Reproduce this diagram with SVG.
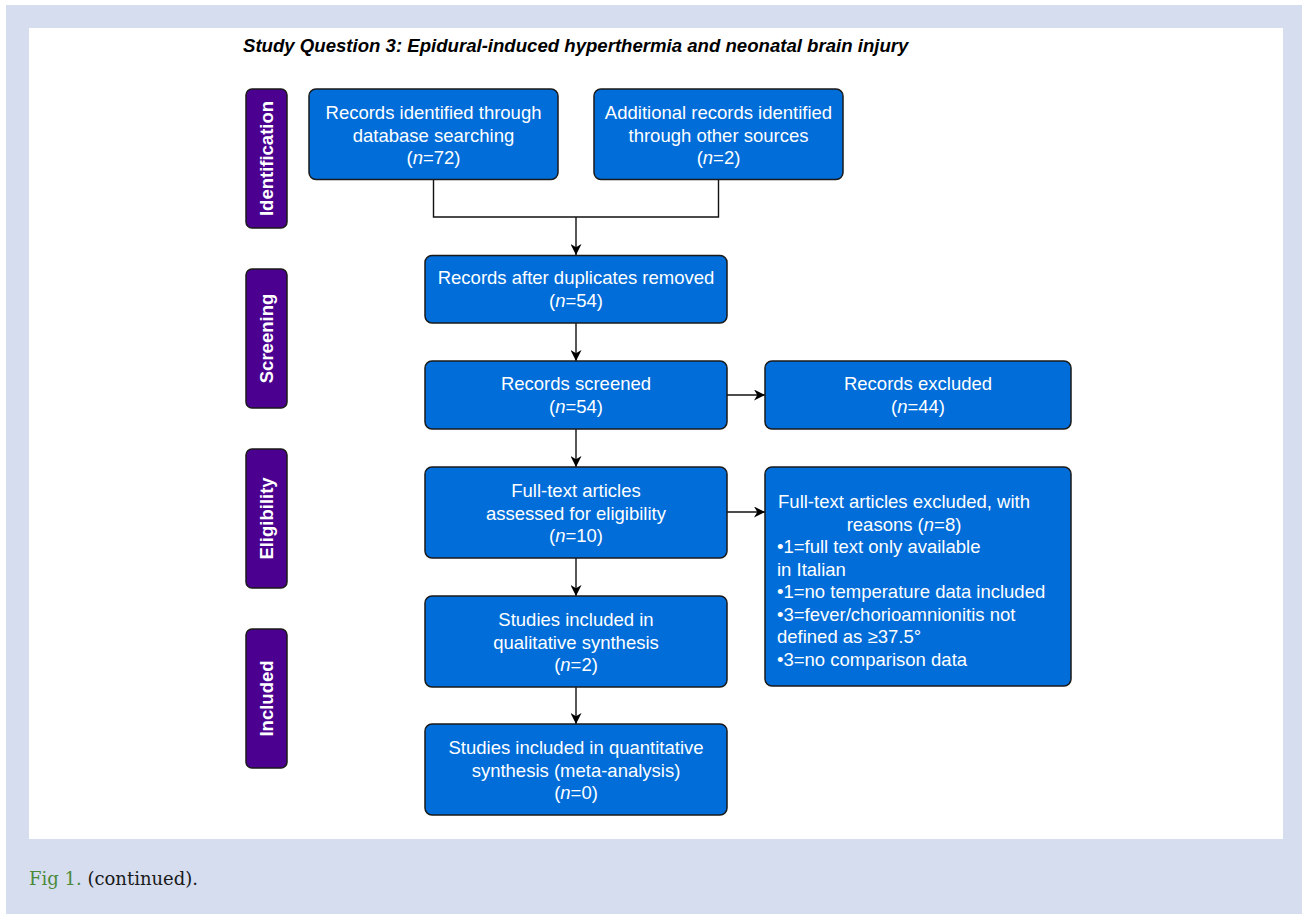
<svg xmlns="http://www.w3.org/2000/svg" width="1302" height="914" viewBox="0 0 1302 914">
<style>
.node{fill:#006dd9;stroke:#1a1a1a;stroke-width:1.5}
.phase{fill:#4b0090;stroke:#1a1a1a;stroke-width:1.5}
.t{font-family:"Liberation Sans",Arial,sans-serif;font-size:18.5px;fill:#ffffff;text-anchor:middle}
.tl{font-family:"Liberation Sans",Arial,sans-serif;font-size:18.5px;fill:#ffffff}
.pt{font-family:"Liberation Sans",Arial,sans-serif;font-size:18.5px;font-weight:bold;fill:#ffffff;text-anchor:middle}
.c{fill:none;stroke:#111;stroke-width:1.4}
</style>
<defs>
<marker id="arr" viewBox="0 0 10 10" refX="10" refY="5" markerWidth="11" markerHeight="11" markerUnits="userSpaceOnUse" orient="auto">
<path d="M0,0 L10,5 L0,10 L3,5 z" fill="#000"/>
</marker>
</defs>
<rect x="0" y="0" width="1302" height="914" fill="#ffffff"/>
<rect x="6" y="5" width="1296" height="909" fill="#d5ddef"/>
<rect x="29" y="28" width="1254" height="811" fill="#ffffff"/>
<text x="243" y="52" font-family="'Liberation Sans',Arial,sans-serif" font-size="18.6px" font-weight="bold" font-style="italic" fill="#000">Study Question 3: Epidural-induced hyperthermia and neonatal brain injury</text>

<g id="connectors">
<polyline class="c" points="433.5,179.5 433.5,217 718.5,217 718.5,179.5"/>
<line class="c" x1="576" y1="217" x2="576" y2="255" marker-end="url(#arr)"/>
<line class="c" x1="576" y1="323" x2="576" y2="361" marker-end="url(#arr)"/>
<line class="c" x1="727" y1="395" x2="765" y2="395" marker-end="url(#arr)"/>
<line class="c" x1="576" y1="429" x2="576" y2="467" marker-end="url(#arr)"/>
<line class="c" x1="727" y1="512" x2="765" y2="512" marker-end="url(#arr)"/>
<line class="c" x1="576" y1="558" x2="576" y2="596" marker-end="url(#arr)"/>
<line class="c" x1="576" y1="687" x2="576" y2="724" marker-end="url(#arr)"/>
</g>

<g id="phase-identification">
<rect class="phase" x="246" y="89" width="41" height="139" rx="6"/>
<text class="pt" transform="translate(273,158.5) rotate(-90)">Identification</text>
</g>
<g id="phase-screening">
<rect class="phase" x="246" y="269" width="41" height="139" rx="6"/>
<text class="pt" transform="translate(273,338.5) rotate(-90)">Screening</text>
</g>
<g id="phase-eligibility">
<rect class="phase" x="246" y="449" width="41" height="139" rx="6"/>
<text class="pt" transform="translate(273,518.5) rotate(-90)">Eligibility</text>
</g>
<g id="phase-included">
<rect class="phase" x="246" y="629" width="41" height="139" rx="6"/>
<text class="pt" transform="translate(273,698.5) rotate(-90)">Included</text>
</g>

<g id="records-database">
<rect class="node" x="309" y="89" width="249" height="90.5" rx="7"/>
<text class="t" x="433.5" y="119">Records identified through</text>
<text class="t" x="433.5" y="141.5">database searching</text>
<text class="t" x="433.5" y="164">(<tspan font-style="italic">n</tspan>=72)</text>
</g>
<g id="records-other">
<rect class="node" x="594" y="89" width="249" height="90.5" rx="7"/>
<text class="t" x="718.5" y="119">Additional records identified</text>
<text class="t" x="718.5" y="141.5">through other sources</text>
<text class="t" x="718.5" y="164">(<tspan font-style="italic">n</tspan>=2)</text>
</g>
<g id="records-dedup">
<rect class="node" x="425" y="255.5" width="302" height="67.5" rx="7"/>
<text class="t" x="576" y="284">Records after duplicates removed</text>
<text class="t" x="576" y="306.5">(<tspan font-style="italic">n</tspan>=54)</text>
</g>
<g id="records-screened">
<rect class="node" x="425" y="361" width="302" height="68" rx="7"/>
<text class="t" x="576" y="390">Records screened</text>
<text class="t" x="576" y="412.5">(<tspan font-style="italic">n</tspan>=54)</text>
</g>
<g id="records-excluded">
<rect class="node" x="765" y="361" width="306" height="68" rx="7"/>
<text class="t" x="918" y="390">Records excluded</text>
<text class="t" x="918" y="412.5">(<tspan font-style="italic">n</tspan>=44)</text>
</g>
<g id="fulltext-assessed">
<rect class="node" x="425" y="467" width="302" height="91" rx="7"/>
<text class="t" x="576" y="497">Full-text articles</text>
<text class="t" x="576" y="519.5">assessed for eligibility</text>
<text class="t" x="576" y="542">(<tspan font-style="italic">n</tspan>=10)</text>
</g>
<g id="fulltext-excluded">
<rect class="node" x="765" y="467" width="306" height="219" rx="7"/>
<text class="t" x="904" y="508">Full-text articles excluded, with</text>
<text class="t" x="904" y="530.5">reasons (<tspan font-style="italic">n</tspan>=8)</text>
<text class="tl" x="777" y="553">•1=full text only available</text>
<text class="tl" x="777" y="575.5">in Italian</text>
<text class="tl" x="777" y="598">•1=no temperature data included</text>
<text class="tl" x="777" y="620.5">•3=fever/chorioamnionitis not</text>
<text class="tl" x="777" y="643">defined as ≥37.5°</text>
<text class="tl" x="777" y="665.5">•3=no comparison data</text>
</g>
<g id="qualitative">
<rect class="node" x="425" y="596" width="302" height="91" rx="7"/>
<text class="t" x="576" y="626">Studies included in</text>
<text class="t" x="576" y="648.5">qualitative synthesis</text>
<text class="t" x="576" y="671">(<tspan font-style="italic">n</tspan>=2)</text>
</g>
<g id="quantitative">
<rect class="node" x="425" y="724" width="302" height="91" rx="7"/>
<text class="t" x="576" y="754">Studies included in quantitative</text>
<text class="t" x="576" y="776.5">synthesis (meta-analysis)</text>
<text class="t" x="576" y="799">(<tspan font-style="italic">n</tspan>=0)</text>
</g>

<text x="29" y="885" font-family="'DejaVu Serif','Liberation Serif',serif" font-size="18px" fill="#1a1a1a"><tspan fill="#4a8a3a">Fig 1.</tspan> (continued).</text>
</svg>
